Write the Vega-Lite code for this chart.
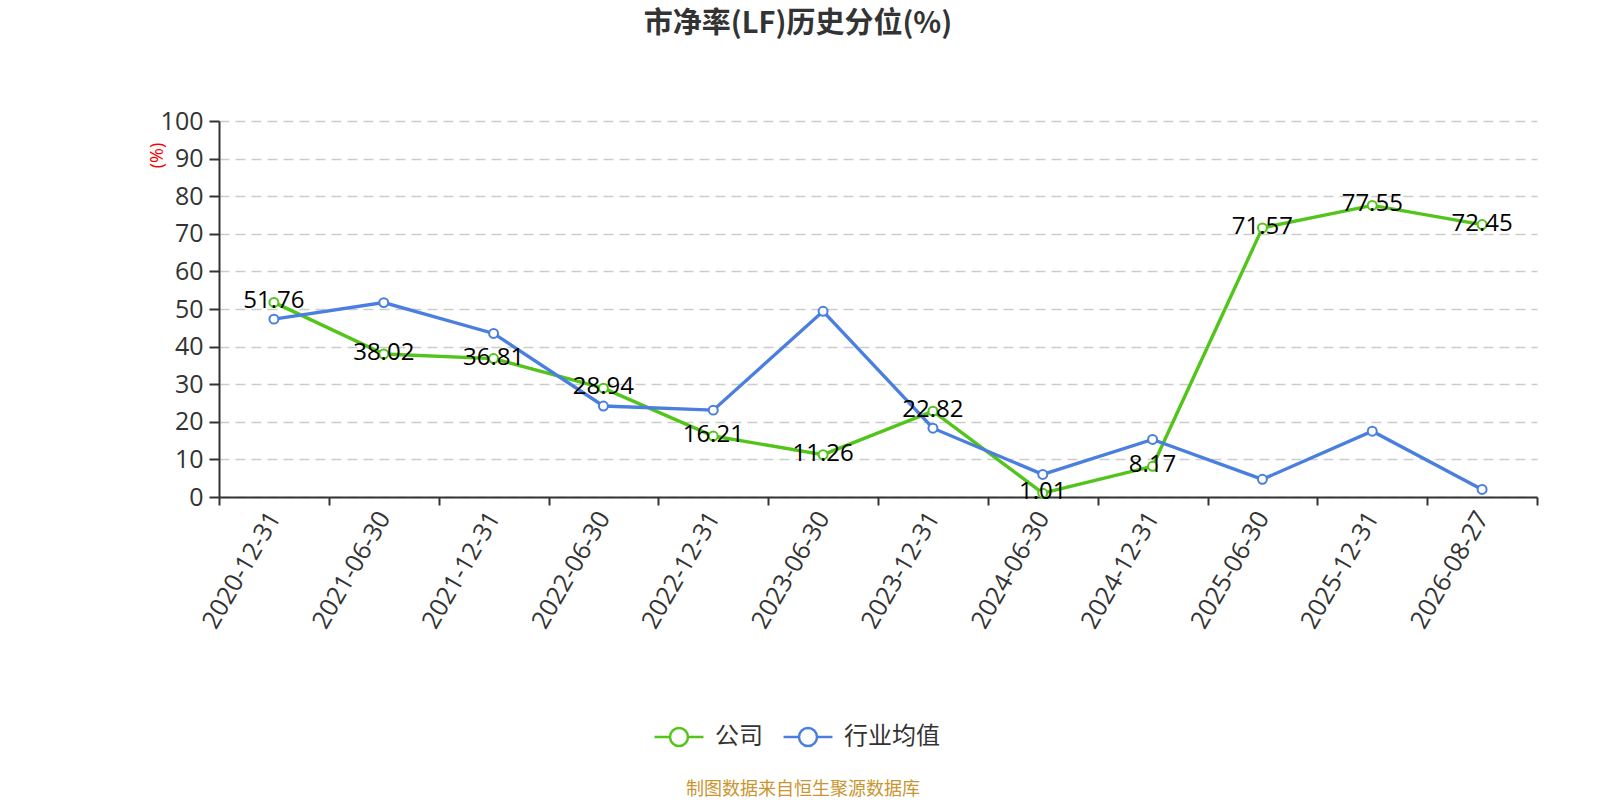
{
  "$schema": "https://vega.github.io/schema/vega-lite/v6.json",
  "width": 1318,
  "height": 376,
  "autosize": {"type": "none"},
  "padding": {"left": 219, "top": 121, "right": 63, "bottom": 303},
  "background": "white",
  "config": {"font": "Open Sans", "view": {"stroke": null}},
  "title": {
    "text": "市净率(LF)历史分位(%)",
    "font": "Noto Sans CJK SC",
    "fontSize": 29,
    "fontWeight": "bold",
    "color": "#333333",
    "anchor": "middle",
    "dx": -80,
    "offset": 70
  },
  "data": {
    "values": [
      {"date": "2020-12-31", "series": "公司", "value": 51.76},
      {"date": "2021-06-30", "series": "公司", "value": 38.02},
      {"date": "2021-12-31", "series": "公司", "value": 36.81},
      {"date": "2022-06-30", "series": "公司", "value": 28.94},
      {"date": "2022-12-31", "series": "公司", "value": 16.21},
      {"date": "2023-06-30", "series": "公司", "value": 11.26},
      {"date": "2023-12-31", "series": "公司", "value": 22.82},
      {"date": "2024-06-30", "series": "公司", "value": 1.01},
      {"date": "2024-12-31", "series": "公司", "value": 8.17},
      {"date": "2025-06-30", "series": "公司", "value": 71.57},
      {"date": "2025-12-31", "series": "公司", "value": 77.55},
      {"date": "2026-08-27", "series": "公司", "value": 72.45},
      {"date": "2020-12-31", "series": "行业均值", "value": 47.3},
      {"date": "2021-06-30", "series": "行业均值", "value": 51.7},
      {"date": "2021-12-31", "series": "行业均值", "value": 43.5},
      {"date": "2022-06-30", "series": "行业均值", "value": 24.2},
      {"date": "2022-12-31", "series": "行业均值", "value": 23.1},
      {"date": "2023-06-30", "series": "行业均值", "value": 49.4},
      {"date": "2023-12-31", "series": "行业均值", "value": 18.3},
      {"date": "2024-06-30", "series": "行业均值", "value": 6.0},
      {"date": "2024-12-31", "series": "行业均值", "value": 15.3},
      {"date": "2025-06-30", "series": "行业均值", "value": 4.7},
      {"date": "2025-12-31", "series": "行业均值", "value": 17.5},
      {"date": "2026-08-27", "series": "行业均值", "value": 2.0}
    ]
  },
  "encoding": {
    "x": {
      "field": "date",
      "type": "nominal",
      "sort": null,
      "title": null,
      "scale": {"type": "band", "paddingInner": 0, "paddingOuter": 0},
      "axis": {
        "labelAngle": -60,
        "labelAlign": "right",
        "labelBaseline": "middle",
        "labelFontSize": 25,
        "labelColor": "#333333",
        "labelPadding": 8,
        "tickBand": "extent",
        "tickSize": 8,
        "tickWidth": 2,
        "tickColor": "#333333",
        "domainColor": "#333333",
        "domainWidth": 2,
        "grid": false
      }
    },
    "y": {
      "field": "value",
      "type": "quantitative",
      "scale": {"domain": [0, 100], "nice": false},
      "title": "(%)",
      "axis": {
        "values": [0, 10, 20, 30, 40, 50, 60, 70, 80, 90, 100],
        "labelFontSize": 25,
        "labelColor": "#333333",
        "labelPadding": 6,
        "tickSize": 10,
        "tickWidth": 2,
        "tickColor": "#333333",
        "domainColor": "#333333",
        "domainWidth": 2,
        "grid": true,
        "gridColor": "#cccccc",
        "gridDash": [10, 6],
        "gridWidth": 1.5,
        "titleColor": "red",
        "titleFontSize": 18,
        "titleFontWeight": "normal",
        "titleAngle": -90,
        "titleX": -62,
        "titleY": 34,
        "titleAlign": "center",
        "titleBaseline": "middle"
      }
    }
  },
  "layer": [
    {
      "mark": {
        "type": "line",
        "strokeWidth": 3.4,
        "point": {"filled": false, "fill": "white", "size": 80, "strokeWidth": 2}
      },
      "encoding": {
        "color": {
          "field": "series",
          "type": "nominal",
          "scale": {"domain": ["公司", "行业均值"], "range": ["#52c41a", "#4a7fdf"]},
          "legend": {
            "orient": "none",
            "legendX": 448,
            "legendY": 604,
            "direction": "horizontal",
            "title": "制图数据来自恒生聚源数据库",
            "titleOrient": "bottom",
            "titleAnchor": "middle",
            "titleColor": "#c9952f",
            "titleFont": "Noto Sans CJK SC",
            "titleFontSize": 18,
            "titleFontWeight": "normal",
            "titleLimit": 1000,
            "titlePadding": 30,
            "symbolType": "M-2.72,0L-1,0M1,0L2.72,0M-1,0A1,1,0,1,1,1,0A1,1,0,1,1,-1,0",
            "symbolSize": 324,
            "symbolStrokeWidth": 2.5,
            "symbolFillColor": "white",
            "labelFont": "Noto Sans CJK SC",
            "labelFontSize": 24,
            "labelColor": "#333333",
            "labelOffset": 24,
            "columnPadding": 15
          }
        }
      }
    },
    {
      "transform": [{"filter": "datum.series === '公司'"}],
      "mark": {"type": "text", "fontSize": 24, "color": "black", "align": "center", "baseline": "middle", "dy": -1},
      "encoding": {
        "text": {"field": "value", "type": "quantitative", "format": ".2f"}
      }
    }
  ]
}
